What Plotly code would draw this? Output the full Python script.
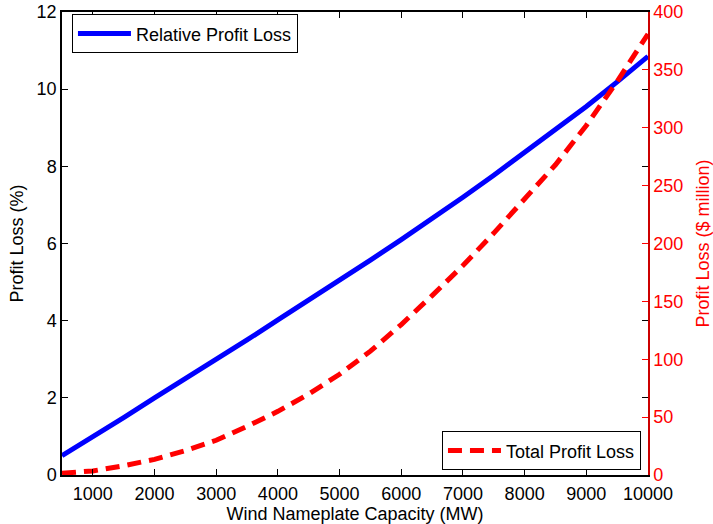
import plotly.graph_objects as go

capacity_mw = [500, 1000, 1500, 2000, 2500, 3000, 3500, 4000, 4500, 5000, 5500,
               6000, 6500, 7000, 7500, 8000, 8500, 9000, 9500, 10000]
relative_loss_pct = [0.50, 0.98, 1.49, 2.00, 2.49, 2.99, 3.50, 4.02, 4.53, 5.05, 5.57,
                     6.10, 6.64, 7.20, 7.77, 8.35, 8.94, 9.55, 10.19, 10.85]
total_loss_musd = [1.5, 3.5, 8, 13.5, 21, 30, 42, 55, 70, 87, 107,
                   130, 155, 181, 209, 238, 268, 302, 340, 381]

x_ticks = [1000, 2000, 3000, 4000, 5000, 6000, 7000, 8000, 9000, 10000]
x_tick_labels = [str(v) for v in x_ticks]
y_ticks = [0, 2, 4, 6, 8, 10, 12]
y2_ticks = [0, 50, 100, 150, 200, 250, 300, 350, 400]

FONT = "Liberation Sans"

fig = go.Figure()
fig.add_trace(go.Scatter(
    x=capacity_mw, y=relative_loss_pct, mode="lines", name="Relative Profit Loss",
    line=dict(color="#0000ff", width=5), legend="legend", yaxis="y", showlegend=True))
fig.add_trace(go.Scatter(
    x=capacity_mw, y=total_loss_musd, mode="lines", name="Total Profit Loss",
    line=dict(color="#ff0000", width=5, dash="14px,8px"), legend="legend2", yaxis="y2",
    showlegend=True))

fig.update_layout(
    width=713, height=524,
    margin=dict(l=62, r=65, t=12, b=49, autoexpand=False),
    paper_bgcolor="white", plot_bgcolor="white",
    showlegend=True,
    font=dict(family=FONT, size=18, color="black"),
    xaxis=dict(range=[500, 10000], tickvals=x_ticks, ticktext=x_tick_labels,
               ticks="inside", ticklen=6, ticklabelstandoff=2,
               tickcolor="black", showline=True, linecolor="black", linewidth=1.5,
               mirror="ticks", showgrid=False, zeroline=False, automargin=False,
               title=dict(text="Wind Nameplate Capacity (MW)", standoff=1,
                          font=dict(family=FONT, size=18)),
               tickfont=dict(family=FONT, size=18)),
    yaxis=dict(range=[0, 12], tickvals=y_ticks, ticks="inside", ticklen=6,
               tickcolor="black", showline=True, linecolor="black", linewidth=1.5,
               mirror="ticks", showgrid=False, zeroline=False, automargin=False,
               title=dict(text="Profit Loss (%)", standoff=8,
                          font=dict(family=FONT, size=18)),
               tickfont=dict(family=FONT, size=18)),
    yaxis2=dict(range=[0, 400], tickvals=y2_ticks, ticks="inside", ticklen=6,
                tickcolor="#ff0000", overlaying="y", side="right",
                showline=True, linecolor="#cc0000", linewidth=1.5,
                showgrid=False, zeroline=False, automargin=False,
                title=dict(text="Profit Loss ($ million)", standoff=14,
                           font=dict(family=FONT, size=18, color="#ff0000")),
                tickfont=dict(family=FONT, size=18, color="#ff0000")),
    legend=dict(x=0.017, y=0.995, xanchor="left", yanchor="top", itemwidth=53,
                bordercolor="black", borderwidth=1, bgcolor="white",
                font=dict(family=FONT, size=18)),
    legend2=dict(x=0.988, y=0.01, xanchor="right", yanchor="bottom", itemwidth=53,
                 bordercolor="black", borderwidth=1, bgcolor="white",
                 font=dict(family=FONT, size=18)),
)

fig.write_html("out.html")
